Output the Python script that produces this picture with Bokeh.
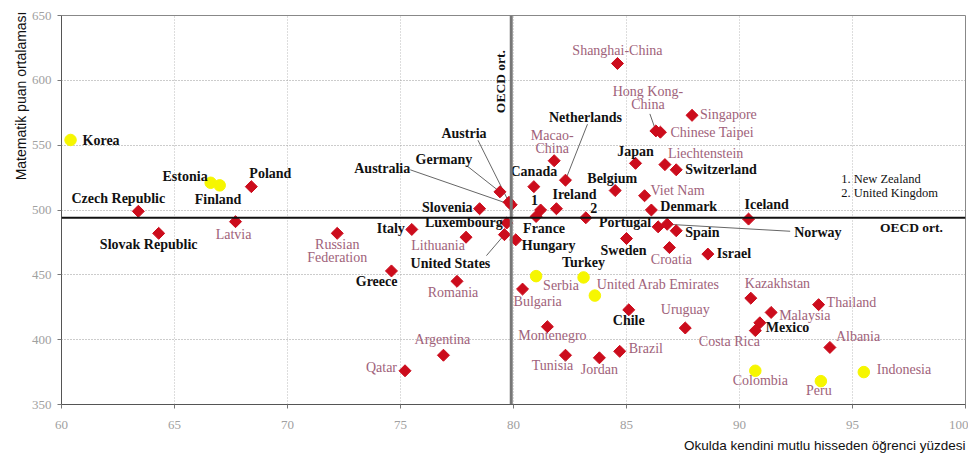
import math
from bokeh.plotting import figure
from bokeh.models import ColumnDataSource, Range1d, FixedTicker, Title, Span
from bokeh.core.properties import value
from bokeh.embed import file_html
from bokeh.resources import INLINE

# ---------------- data ----------------
countries = ["Korea", "Estonia", "Finland", "Poland", "Czech Republic", "Latvia",
             "Slovak Republic", "Russian Federation", "Italy", "Lithuania", "Greece",
             "Romania", "Argentina", "Qatar", "Slovenia", "Germany", "Austria",
             "Australia", "Luxembourg", "United States", "Hungary", "France",
             "New Zealand", "Ireland", "Canada", "Macao-China", "Netherlands",
             "Belgium", "Japan", "Shanghai-China", "United Kingdom", "Viet Nam",
             "Denmark", "Sweden", "Portugal", "Norway", "Spain", "Croatia", "Israel",
             "Iceland", "Liechtenstein", "Switzerland", "Hong Kong-China",
             "Chinese Taipei", "Singapore", "Kazakhstan", "Thailand", "Malaysia",
             "Mexico", "Costa Rica", "Albania", "Uruguay", "Chile", "Brazil",
             "Colombia", "Peru", "Indonesia", "Serbia", "Turkey",
             "United Arab Emirates", "Bulgaria", "Montenegro", "Tunisia", "Jordan"]

happy_pct = [60.4, 66.6, 67.0, 68.4, 63.4, 67.7,
             64.3, 72.2, 75.5, 77.9, 74.6,
             77.5, 76.9, 75.2, 78.5, 79.4, 79.8,
             79.9, 79.7, 79.6, 80.1, 81.0,
             81.2, 81.9, 80.9, 81.8, 82.3,
             84.5, 85.4, 84.6, 83.2, 85.8,
             86.1, 85.0, 86.4, 86.8, 87.2, 86.9, 88.6,
             90.4, 86.7, 87.2, 86.3,
             86.5, 87.9, 90.5, 93.5, 91.4,
             90.9, 90.7, 94.0, 87.6, 85.1, 84.7,
             90.7, 93.6, 95.5, 81.0, 83.1,
             83.6, 80.4, 81.5, 82.3, 83.8]

math_mean = [554, 521, 519, 518, 499, 491,
             482, 482, 485, 479, 453,
             445, 388, 376, 501, 514, 506,
             504, 490, 481, 477, 495,
             500, 501, 518, 538, 523,
             515, 536, 613, 494, 511,
             500, 478, 487, 489, 484, 471, 466,
             493, 535, 531, 561,
             560, 573, 432, 427, 421,
             413, 407, 394, 409, 423, 391,
             376, 368, 375, 449, 448,
             434, 439, 410, 388, 386]

oecd_members = ["Korea", "Estonia", "Finland", "Poland", "Czech Republic",
                "Slovak Republic", "Italy", "Greece", "Slovenia", "Germany", "Austria",
                "Australia", "Luxembourg", "United States", "Hungary", "France",
                "New Zealand", "Ireland", "Canada", "Netherlands", "Belgium", "Japan",
                "United Kingdom", "Denmark", "Sweden", "Portugal", "Norway", "Spain",
                "Israel", "Iceland", "Switzerland", "Mexico", "Chile", "Turkey"]

yellow_group = ["Korea", "Estonia", "Finland", "Colombia", "Peru", "Indonesia",
                "Serbia", "Turkey", "United Arab Emirates"]

oecd_avg_happy = 79.9
oecd_avg_math = 494

x_ticks = [60, 65, 70, 75, 80, 85, 90, 95, 100]
y_ticks = [350, 400, 450, 500, 550, 600, 650]

x_title = "Okulda kendini mutlu hisseden öğrenci yüzdesi"
y_title = "Matematik puan ortalaması"
oecd_text = "OECD ort."
notes = ["1. New Zealand", "2. United Kingdom"]
notes_x = 94.5
notes_y = [524, 513]

# ---------------- label layout (screen px relative to marker; dy positive = down) ----
layout = {
    "Korea": ("Korea", "left", 12, 1),
    "Estonia": ("Estonia", "right", -3, -6),
    "Finland": ("Finland", "left", -25, 14),
    "Poland": ("Poland", "left", -2, -13),
    "Czech Republic": ("Czech Republic", "center", -20, -13),
    "Latvia": ("Latvia", "center", -2, 13),
    "Slovak Republic": ("Slovak Republic", "center", -10, 11),
    "Russian Federation": ("Russian\nFederation", "center", 0, 11),
    "Italy": ("Italy", "right", -7, -1),
    "Lithuania": ("Lithuania", "center", -28, 8),
    "United States": ("United States", "center", -54, 29),
    "Greece": ("Greece", "right", 6, 11),
    "Romania": ("Romania", "center", -4, 11),
    "Argentina": ("Argentina", "center", -1, -16),
    "Qatar": ("Qatar", "right", -8, -3),
    "Slovenia": ("Slovenia", "right", -7, -1),
    "Germany": ("Germany", "center", -56, -32),
    "Austria": ("Austria", "center", -45, -69),
    "Australia": ("Australia", "center", -129, -36),
    "Luxembourg": ("Luxembourg", "right", -4, 0),
    "Hungary": ("Hungary", "left", 6, 6),
    "France": ("France", "left", -13, 12),
    "New Zealand": ("1", "center", -6, -10),
    "Ireland": ("Ireland", "left", -4, -14),
    "Canada": ("Canada", "center", 0, -15),
    "Macao-China": ("Macao-\nChina", "center", -2, -25),
    "Netherlands": ("Netherlands", "center", 20, -63),
    "Belgium": ("Belgium", "center", -3, -12),
    "Japan": ("Japan", "center", 0, -12),
    "Shanghai-China": ("Shanghai-China", "center", 0, -13),
    "United Kingdom": ("2", "center", 8, -10),
    "Viet Nam": ("Viet Nam", "left", 6, -5),
    "Denmark": ("Denmark", "left", 9, -4),
    "Sweden": ("Sweden", "center", -3, 12),
    "Portugal": ("Portugal", "right", -7, -4),
    "Norway": ("Norway", "left", 127, 8),
    "Spain": ("Spain", "left", 9, 2),
    "Croatia": ("Croatia", "center", 2, 12),
    "Israel": ("Israel", "left", 9, -1),
    "Iceland": ("Iceland", "left", -4, -15),
    "Liechtenstein": ("Liechtenstein", "left", 3, -11),
    "Switzerland": ("Switzerland", "left", 9, 0),
    "Hong Kong-China": ("Hong Kong-\nChina", "center", -8, -39),
    "Chinese Taipei": ("Chinese Taipei", "left", 10, 0),
    "Singapore": ("Singapore", "left", 8, -1),
    "Kazakhstan": ("Kazakhstan", "left", -6, -15),
    "Thailand": ("Thailand", "left", 8, -2),
    "Malaysia": ("Malaysia", "left", 8, 3),
    "Mexico": ("Mexico", "left", 6, 5),
    "Costa Rica": ("Costa Rica", "center", -26, 11),
    "Albania": ("Albania", "left", 6, -11),
    "Uruguay": ("Uruguay", "center", 0, -18),
    "Chile": ("Chile", "center", 0, 11),
    "Brazil": ("Brazil", "left", 9, -3),
    "Colombia": ("Colombia", "center", 5, 10),
    "Peru": ("Peru", "center", -2, 9),
    "Indonesia": ("Indonesia", "left", 13, -3),
    "Serbia": ("Serbia", "left", 7, 9),
    "Turkey": ("Turkey", "center", 0, -15),
    "United Arab Emirates": ("United Arab Emirates", "left", 2, -11),
    "Bulgaria": ("Bulgaria", "left", -9, 12),
    "Montenegro": ("Montenegro", "center", 5, 9),
    "Tunisia": ("Tunisia", "center", -13, 10),
    "Jordan": ("Jordan", "center", 0, 12),
}

# leader lines: (country, dx, dy) end point in px relative to marker
leaders = [("Germany", -33, -26), ("Austria", -31, -62), ("Australia", -101, -35),
           ("Netherlands", 22, -56), ("Hong Kong-China", -6, -17),
           ("Norway", 123, 7), ("United States", -18, 21)]

# ---------------- figure ----------------
W, H = 968, 459
ML, MR, MT, MB = 61, 3, 15, 55
FW, FH = W - ML - MR, H - MT - MB
XMIN, XMAX, YMIN, YMAX = 60, 100, 350, 650
pxx = FW / (XMAX - XMIN)
pxy = FH / (YMAX - YMIN)

p = figure(width=W, height=H, output_backend="svg", toolbar_location=None,
           x_range=Range1d(XMIN, XMAX), y_range=Range1d(YMIN, YMAX),
           min_border_left=ML, min_border_right=MR, min_border_top=MT,
           min_border_bottom=MB)
p.outline_line_color = "#888888"
p.background_fill_color = "white"

for ax, ticks in ((p.xaxis, x_ticks), (p.yaxis, y_ticks)):
    ax.ticker = FixedTicker(ticks=ticks)
    ax.major_label_text_font = "Liberation Serif"
    ax.major_label_text_font_size = "13px"
    ax.major_label_text_color = "#a0a0a0"
    ax.axis_line_color = "#555555"
    ax.major_tick_line_color = "#777777"
    ax.major_tick_in = 0
    ax.major_tick_out = 4
    ax.minor_tick_line_color = None
p.xaxis.major_label_standoff = 12
p.yaxis.major_label_standoff = 6

p.xgrid.grid_line_color = "#bbbbbb"
p.xgrid.grid_line_dash = "1 2"
p.ygrid.grid_line_color = "#999999"
p.ygrid.grid_line_dash = "1 2"

p.add_layout(Title(text=y_title, align="right", text_font="Liberation Sans",
                   text_font_size="14px", text_font_style="normal",
                   text_color="#111111", standoff=0, offset=-4), "left")
p.add_layout(Title(text=x_title, align="right", text_font="Liberation Sans",
                   text_font_size="13.5px", text_font_style="normal",
                   text_color="#111111", standoff=8), "below")

# OECD average lines
p.add_layout(Span(location=oecd_avg_happy, dimension="height", line_color="#777777",
                  line_width=3))
p.add_layout(Span(location=oecd_avg_math, dimension="width", line_color="#111111",
                  line_width=2))

# leader lines
lx0, ly0, lx1, ly1 = [], [], [], []
for name, dx, dy in leaders:
    i = countries.index(name)
    lx0.append(happy_pct[i]); ly0.append(math_mean[i])
    lx1.append(happy_pct[i] + dx / pxx); ly1.append(math_mean[i] - dy / pxy)
p.segment(x0=lx0, y0=ly0, x1=lx1, y1=ly1, line_color="#555555", line_width=0.9)

# markers
red_idx = [i for i, c in enumerate(countries) if c not in yellow_group]
yel_idx = [i for i, c in enumerate(countries) if c in yellow_group]
p.scatter(x=[happy_pct[i] for i in red_idx], y=[math_mean[i] for i in red_idx],
          marker="square", angle=math.pi / 4, size=8.5, fill_color="#cc0c1c",
          line_color="#cc0c1c")
p.scatter(x=[happy_pct[i] for i in yel_idx], y=[math_mean[i] for i in yel_idx],
          marker="circle", size=11.5, fill_color="#f6f600", line_color="#f6f600")

# country labels
rows = {"x": [], "y": [], "t": [], "a": [], "dx": [], "dy": [], "c": [], "s": []}
for i, c in enumerate(countries):
    txt, align, dx, dy = layout[c]
    member = c in oecd_members
    for k, line in enumerate(txt.split("\n")):
        rows["x"].append(happy_pct[i]); rows["y"].append(math_mean[i])
        rows["t"].append(line); rows["a"].append(align)
        rows["dx"].append(dx); rows["dy"].append(dy + 13 * k)
        rows["c"].append("#111111" if member else "#a0627a")
        rows["s"].append("bold" if member else "normal")
src = ColumnDataSource(rows)
p.text(x="x", y="y", text="t", source=src, text_align="a", text_baseline="middle",
       x_offset="dx", y_offset="dy", text_color="c", text_font_style="s",
       text_font=value("Liberation Serif"), text_font_size="14px")

# OECD labels
p.text(x=[oecd_avg_happy], y=[599], text=[oecd_text], angle=math.pi / 2,
       text_align="center", text_baseline="bottom", x_offset=-3,
       text_font=value("Liberation Serif"), text_font_size="13.5px",
       text_font_style="bold", text_color="#111111")
p.text(x=[99.0], y=[oecd_avg_math], text=[oecd_text], text_align="right",
       text_baseline="middle", y_offset=10, text_font=value("Liberation Serif"),
       text_font_size="13.5px", text_font_style="bold", text_color="#111111")

# footnotes
p.text(x=[notes_x, notes_x], y=notes_y, text=notes, text_align="left",
       text_baseline="middle", text_font=value("Liberation Serif"),
       text_font_size="12.5px", text_color="#111111")

open("out.html", "w").write(file_html(p, INLINE))
